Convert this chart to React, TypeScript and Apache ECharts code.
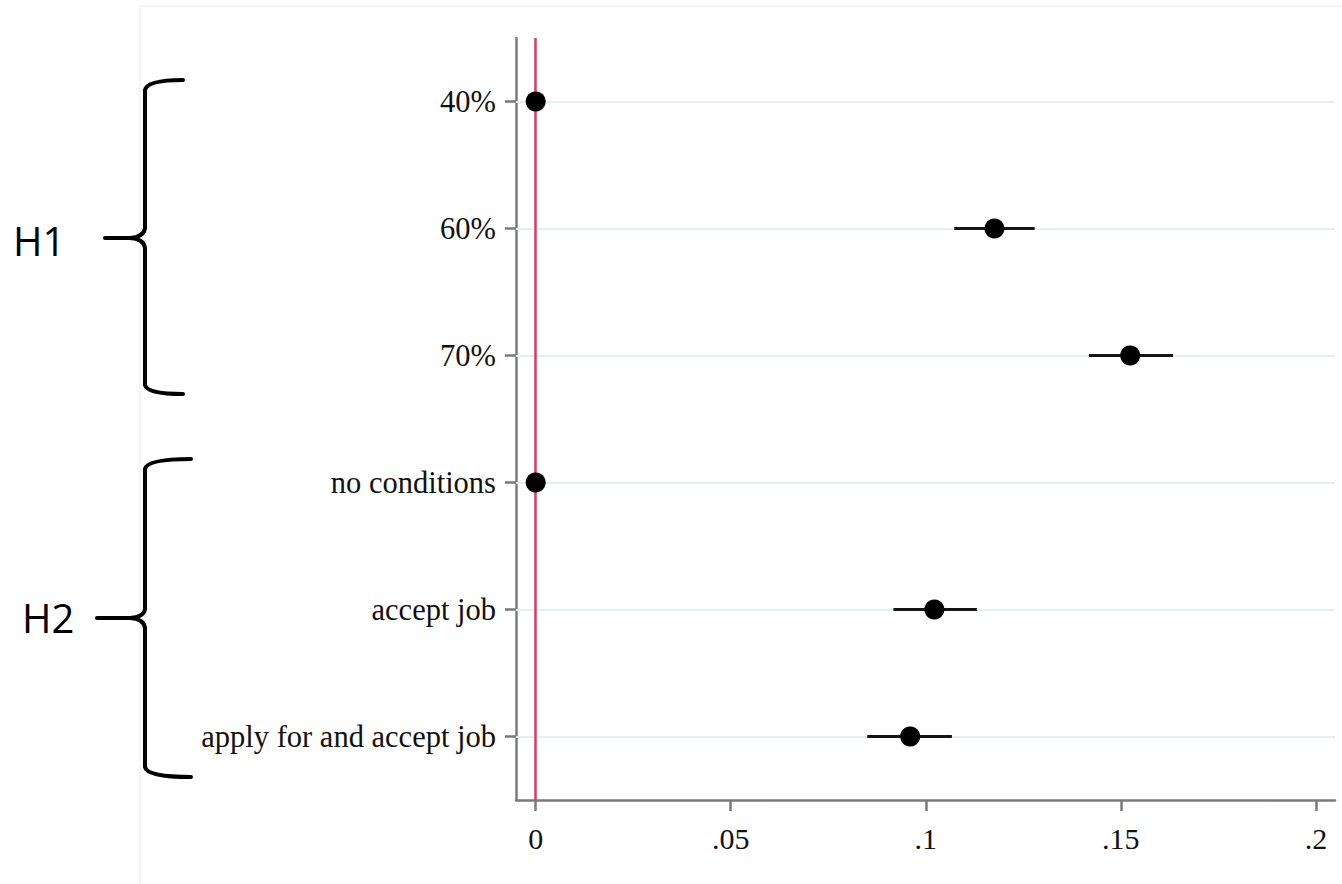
import React, { useEffect, useRef } from "react";
import * as echarts from "echarts";

// Coefficient plot: point estimates with 95% confidence intervals
const categories = ["40%", "60%", "70%", "no conditions", "accept job", "apply for and accept job"];
const estimates = [0, 0.1176, 0.1524, 0, 0.1022, 0.096];
const ciLower = [0, 0.1073, 0.1418, 0, 0.0917, 0.085];
const ciUpper = [0, 0.1279, 0.1634, 0, 0.1131, 0.1067];
const xTicks = [0, 0.05, 0.1, 0.15, 0.2];

const groupLabels = ["H1", "H2"];

// Curly braces grouping the hypotheses
const braceH1 =
  "M183,80 Q147,80 145,90 L145,228 Q144,237 130,238 L105,238 M130,238 Q144,239 145,248 L145,385 Q147,394 183,394";
const braceH2 =
  "M191,459 Q147,459 145,469 L145,609 Q144,617 130,618 L97,618 M130,618 Q144,619 145,628 L145,767 Q147,777 191,777";

echarts.graphic.registerShape("braceH1", echarts.graphic.extendPath(braceH1, {}));
echarts.graphic.registerShape("braceH2", echarts.graphic.extendPath(braceH2, {}));

const fmtTick = (v: number) => {
  if (v === 0) return "0";
  return String(Number(v.toFixed(4))).replace(/^0\./, ".");
};

export default function App() {
  const ref = useRef<HTMLDivElement>(null);

  useEffect(() => {
    if (!ref.current) return;
    const chart = echarts.init(ref.current, null, { renderer: "svg" });
    const serif = "'Liberation Serif', 'Times New Roman', serif";
    const axisGray = "#7a7a7a";
    const textColor = "#111111";

    chart.setOption({
      animation: false,
      backgroundColor: "#ffffff",
      grid: { left: 516, top: 38, width: 819, height: 762, containLabel: false },
      xAxis: {
        type: "value",
        min: -0.00505,
        max: 0.2049,
        axisLine: { show: true, onZero: false, lineStyle: { color: axisGray, width: 2.5 } },
        axisTick: {
          show: true,
          customValues: xTicks,
          length: 11,
          lineStyle: { color: axisGray, width: 2.5 },
        },
        axisLabel: {
          customValues: xTicks,
          formatter: (v: number) => fmtTick(v),
          fontFamily: serif,
          fontSize: 30,
          color: textColor,
          margin: 23,
        },
        splitLine: { show: false },
      },
      yAxis: {
        type: "category",
        inverse: true,
        data: categories,
        axisLine: { show: true, onZero: false, lineStyle: { color: axisGray, width: 2.5 } },
        axisTick: {
          show: true,
          alignWithLabel: true,
          length: 11,
          lineStyle: { color: axisGray, width: 2.5 },
        },
        axisLabel: {
          fontFamily: serif,
          fontSize: 30.5,
          color: textColor,
          margin: 20,
        },
        splitLine: { show: false },
      },
      series: [
        {
          name: "grid",
          type: "line",
          data: [],
          z: 1,
          silent: true,
          markLine: {
            z: 1,
            silent: true,
            symbol: "none",
            label: { show: false },
            lineStyle: { color: "#e7eef0", width: 2, type: "solid" },
            data: categories.map((c) => ({ yAxis: c })),
          },
        },
        {
          name: "zero",
          type: "line",
          data: [],
          z: 2,
          silent: true,
          markLine: {
            z: 2,
            silent: true,
            symbol: "none",
            label: { show: false },
            lineStyle: { color: "#d23d60", width: 2.5, type: "solid" },
            data: [{ xAxis: 0 }],
          },
        },
        {
          name: "ci",
          type: "custom",
          z: 3,
          silent: true,
          encode: { x: [0, 1], y: 2 },
          data: categories.map((_, i) => [ciLower[i], ciUpper[i], i]),
          renderItem: (params: any, api: any) => {
            const lo = api.coord([api.value(0), api.value(2)]);
            const hi = api.coord([api.value(1), api.value(2)]);
            return {
              type: "rect",
              shape: { x: lo[0], y: lo[1] - 1.5, width: hi[0] - lo[0], height: 3 },
              style: { fill: "#141414", stroke: "none" },
            };
          },
        },
        {
          name: "estimate",
          type: "scatter",
          z: 4,
          silent: true,
          symbol: "circle",
          symbolSize: 20,
          itemStyle: { color: "#000000", opacity: 1 },
          data: categories.map((c, i) => [estimates[i], c]),
        },
      ],
      graphic: [
        {
          type: "rect",
          silent: true,
          shape: { x: 140, y: 6, width: 1240, height: 900 },
          style: { fill: "none", stroke: "#f2f4f5", lineWidth: 1.5 },
        },
        {
          type: "braceH1",
          x: 0,
          y: 0,
          silent: true,
          style: { fill: "none", stroke: "#000000", lineWidth: 4, lineCap: "round" },
        },
        {
          type: "braceH2",
          x: 0,
          y: 0,
          silent: true,
          style: { fill: "none", stroke: "#000000", lineWidth: 4, lineCap: "round" },
        },
        {
          type: "text",
          x: 13,
          y: 240,
          silent: true,
          style: {
            text: groupLabels[0],
            fontFamily: "'Open Sans', 'Noto Sans', sans-serif",
            fontSize: 40,
            fill: "#000000",
            textVerticalAlign: "middle",
            verticalAlign: "middle",
          },
        },
        {
          type: "text",
          x: 22,
          y: 617,
          silent: true,
          style: {
            text: groupLabels[1],
            fontFamily: "'Open Sans', 'Noto Sans', sans-serif",
            fontSize: 40,
            fill: "#000000",
            textVerticalAlign: "middle",
            verticalAlign: "middle",
          },
        },
      ],
    });

    return () => chart.dispose();
  }, []);

  return (
    <div
      ref={ref}
      style={{ position: "fixed", left: 0, top: 0, width: 1342, height: 884 }}
    />
  );
}
